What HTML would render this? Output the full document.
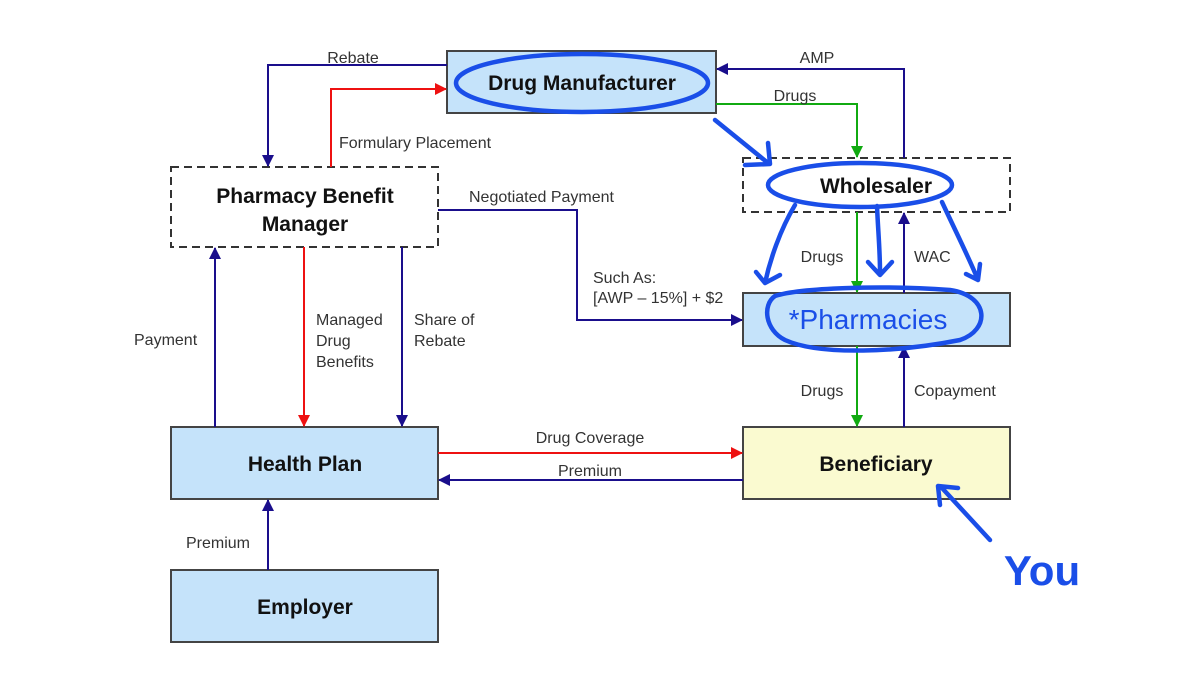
<!DOCTYPE html>
<html><head><meta charset="utf-8"><style>
html,body{margin:0;padding:0;background:#fff;}
svg{display:block;}
text{font-family:"Liberation Sans",sans-serif;}
.lab{font-size:16px;fill:#333;}
.box{font-size:21px;font-weight:bold;fill:#111;}
</style></head><body>
<svg width="1200" height="692" viewBox="0 0 1200 692" xmlns="http://www.w3.org/2000/svg">
<defs>
<marker id="ab" markerWidth="12" markerHeight="12" refX="11" refY="6" orient="auto" markerUnits="userSpaceOnUse"><path d="M0,0 L12,6 L0,12 z" fill="#1a0e8c"/></marker>
<marker id="ar" markerWidth="12" markerHeight="12" refX="11" refY="6" orient="auto" markerUnits="userSpaceOnUse"><path d="M0,0 L12,6 L0,12 z" fill="#ee1111"/></marker>
<marker id="ag" markerWidth="12" markerHeight="12" refX="11" refY="6" orient="auto" markerUnits="userSpaceOnUse"><path d="M0,0 L12,6 L0,12 z" fill="#11aa11"/></marker>
</defs>
<g fill="none" stroke-width="2">
<rect x="447" y="51" width="269" height="62" fill="#c5e3fa" stroke="#444"/>
<rect x="171" y="167" width="267" height="80" fill="#fff" stroke="#333" stroke-dasharray="8,5"/>
<rect x="743" y="158" width="267" height="54" fill="#fff" stroke="#333" stroke-dasharray="8,5"/>
<rect x="743" y="293" width="267" height="53" fill="#c5e3fa" stroke="#444"/>
<rect x="171" y="427" width="267" height="72" fill="#c5e3fa" stroke="#444"/>
<rect x="743" y="427" width="267" height="72" fill="#fafad0" stroke="#444"/>
<rect x="171" y="570" width="267" height="72" fill="#c5e3fa" stroke="#444"/>
<polyline points="447,65 268,65 268,166" stroke="#1a0e8c" marker-end="url(#ab)"/>
<polyline points="331,167 331,89 446,89" stroke="#ee1111" marker-end="url(#ar)"/>
<polyline points="904,158 904,69 717,69" stroke="#1a0e8c" marker-end="url(#ab)"/>
<polyline points="716,104 857,104 857,157" stroke="#11aa11" marker-end="url(#ag)"/>
<polyline points="438,210 577,210 577,320 742,320" stroke="#1a0e8c" marker-end="url(#ab)"/>
<line x1="857" y1="212" x2="857" y2="292" stroke="#11aa11" marker-end="url(#ag)"/>
<line x1="904" y1="293" x2="904" y2="213" stroke="#1a0e8c" marker-end="url(#ab)"/>
<line x1="857" y1="346" x2="857" y2="426" stroke="#11aa11" marker-end="url(#ag)"/>
<line x1="904" y1="427" x2="904" y2="347" stroke="#1a0e8c" marker-end="url(#ab)"/>
<line x1="215" y1="427" x2="215" y2="248" stroke="#1a0e8c" marker-end="url(#ab)"/>
<line x1="304" y1="247" x2="304" y2="426" stroke="#ee1111" marker-end="url(#ar)"/>
<line x1="402" y1="247" x2="402" y2="426" stroke="#1a0e8c" marker-end="url(#ab)"/>
<line x1="438" y1="453" x2="742" y2="453" stroke="#ee1111" marker-end="url(#ar)"/>
<line x1="743" y1="480" x2="439" y2="480" stroke="#1a0e8c" marker-end="url(#ab)"/>
<line x1="268" y1="570" x2="268" y2="500" stroke="#1a0e8c" marker-end="url(#ab)"/>
</g>
<text class="box" x="582" y="90" text-anchor="middle">Drug Manufacturer</text>
<text class="box" x="305" y="203" text-anchor="middle">Pharmacy Benefit</text>
<text class="box" x="305" y="231" text-anchor="middle">Manager</text>
<text class="box" x="876" y="193" text-anchor="middle">Wholesaler</text>
<text x="868" y="329" text-anchor="middle" font-size="28" fill="#1a4ee8" font-family="Liberation Sans,sans-serif">*Pharmacies</text>
<text class="box" x="305" y="471" text-anchor="middle">Health Plan</text>
<text class="box" x="876" y="471" text-anchor="middle">Beneficiary</text>
<text class="box" x="305" y="614" text-anchor="middle">Employer</text>
<text class="lab" x="353" y="63" text-anchor="middle">Rebate</text>
<text class="lab" x="339" y="148">Formulary Placement</text>
<text class="lab" x="817" y="63" text-anchor="middle">AMP</text>
<text class="lab" x="795" y="101" text-anchor="middle">Drugs</text>
<text class="lab" x="469" y="202">Negotiated Payment</text>
<text class="lab" x="593" y="283">Such As:</text>
<text class="lab" x="593" y="303">[AWP – 15%] + $2</text>
<text class="lab" x="822" y="262" text-anchor="middle">Drugs</text>
<text class="lab" x="914" y="262">WAC</text>
<text class="lab" x="822" y="396" text-anchor="middle">Drugs</text>
<text class="lab" x="914" y="396">Copayment</text>
<text class="lab" x="134" y="345">Payment</text>
<text class="lab" x="316" y="325">Managed</text>
<text class="lab" x="316" y="346">Drug</text>
<text class="lab" x="316" y="367">Benefits</text>
<text class="lab" x="414" y="325">Share of</text>
<text class="lab" x="414" y="346">Rebate</text>
<text class="lab" x="590" y="443" text-anchor="middle">Drug Coverage</text>
<text class="lab" x="590" y="476" text-anchor="middle">Premium</text>
<text class="lab" x="186" y="548">Premium</text>
<g fill="none" stroke="#1a4ee8" stroke-width="4.5" stroke-linecap="round" stroke-linejoin="round">
<ellipse cx="582" cy="83" rx="126" ry="29"/>
<ellipse cx="860" cy="185" rx="92" ry="22"/>
<path d="M775,296 C800,288 880,285 950,290 C990,296 990,330 960,340 C900,352 820,356 785,340 C765,330 762,305 775,296 z"/>
<path d="M715,120 L768,163 M745,165 L770,164 L768,143"/>
<path d="M795,205 C780,230 770,260 765,283 M756,272 L765,283 L780,275"/>
<path d="M877,206 C878,230 880,250 880,272 M868,262 L880,275 L892,262"/>
<path d="M942,202 C955,230 970,260 978,280 M966,274 L978,280 L980,264"/>
<path d="M990,540 L942,488 M940,505 L938,486 L958,488"/>
</g>
<text x="1042" y="585" text-anchor="middle" font-size="42" font-weight="bold" fill="#1a4ee8" font-family="Liberation Sans,sans-serif">You</text>
</svg>
</body></html>
